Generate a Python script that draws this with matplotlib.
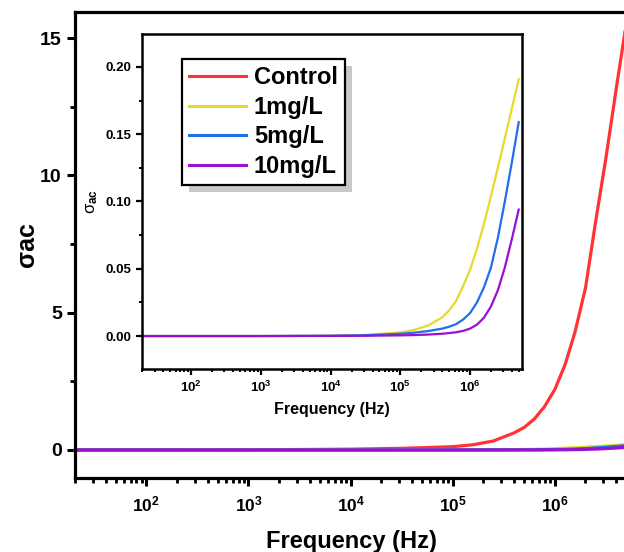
import numpy as np
import matplotlib
matplotlib.use('Agg')
import matplotlib.pyplot as plt
import matplotlib.transforms as mtransforms
from matplotlib.patches import Rectangle
from matplotlib.ticker import FuncFormatter, MultipleLocator, LogLocator

plt.rcParams['font.family'] = 'Liberation Sans'
plt.rcParams['font.weight'] = 'bold'
plt.rcParams['mathtext.fontset'] = 'custom'
plt.rcParams['mathtext.rm'] = 'Liberation Sans'
plt.rcParams['mathtext.it'] = 'Liberation Sans:italic'
plt.rcParams['mathtext.bf'] = 'Liberation Sans:bold'

# frequency (Hz)
freq = [20, 100, 1e3, 1e4, 3.16e4, 1e5, 1.58e5, 2.51e5, 3.98e5, 5.01e5, 6.31e5,
        7.94e5, 1e6, 1.26e6, 1.58e6, 2e6, 2.51e6, 3.16e6, 3.98e6, 5e6]

control = [0.0, 0.0, 0.005, 0.03, 0.06, 0.12, 0.19, 0.33, 0.62, 0.82, 1.13,
           1.58, 2.2, 3.1, 4.3, 5.9, 8.3, 10.6, 13.1, 15.5]
mg1 = [0.0, 0.0, 0.0, 0.0002, 0.0008, 0.0027, 0.0046, 0.0078, 0.0138, 0.019, 0.026,
       0.037, 0.049, 0.065, 0.083, 0.104, 0.125, 0.147, 0.169, 0.191]
mg5 = [0.0, 0.0, 0.0, 0.0002, 0.0006, 0.0017, 0.0025, 0.0037, 0.0055, 0.0069, 0.0088,
       0.0122, 0.017, 0.025, 0.036, 0.051, 0.073, 0.100, 0.129, 0.159]
mg10 = [0.0, 0.0, 0.0, 0.0001, 0.0002, 0.0005, 0.0007, 0.0011, 0.0017, 0.0022, 0.0028,
        0.0038, 0.0055, 0.0085, 0.0135, 0.022, 0.034, 0.051, 0.072, 0.094]

labels = ['Control', '1mg/L', '5mg/L', '10mg/L']
colors = ['#ff3333', '#e8d92c', '#1f6fe8', '#9a10cf']

fig = plt.figure(figsize=(6.24, 5.52), dpi=100)

# main axes, right spine sits just past the picture edge
ax = fig.add_axes([75/624, 74/552, 552/624, 466/552])
lines = []
lines += ax.plot(freq, control, color=colors[0], lw=2.3, clip_on=False)
lines += ax.plot(freq, mg1, color=colors[1], lw=2.3)
lines += ax.plot(freq, mg5, color=colors[2], lw=2.3)
lines += ax.plot(freq, mg10, color=colors[3], lw=2.3)
ax.set_xscale('log')
ax.set_xlim(20, 5.1e6)
ax.set_ylim(-1.02, 15.95)
ax.yaxis.set_major_locator(MultipleLocator(5))
ax.yaxis.set_minor_locator(MultipleLocator(2.5))
ax.xaxis.set_major_locator(LogLocator(base=10, numticks=12))
ax.xaxis.set_minor_locator(LogLocator(base=10, subs=np.arange(2, 10), numticks=12))
fmt = FuncFormatter(lambda v, p: r'$\mathbf{10^{%d}}$' % round(np.log10(v)))
ax.xaxis.set_major_formatter(fmt)
for s in ax.spines.values():
    s.set_linewidth(2.3)
ax.tick_params(which='major', length=6, width=2.2, direction='out')
ax.tick_params(which='minor', length=3.5, width=2, direction='out')
ax.tick_params(axis='y', labelsize=14)
ax.tick_params(axis='x', labelsize=12.5, pad=6)
ax.set_xlabel('Frequency (Hz)', fontsize=17, fontweight='bold', labelpad=11)
ax.set_ylabel('σac', fontsize=18, fontweight='bold', labelpad=1)

# inset
axi = fig.add_axes([142/624, 183/552, 380/624, 335/552])
axi.plot(freq, mg1, color=colors[1], lw=1.6)
axi.plot(freq, mg5, color=colors[2], lw=1.6)
axi.plot(freq, mg10, color=colors[3], lw=1.6)
axi.set_xscale('log')
axi.set_xlim(19.8, 5.57e6)
axi.set_ylim(-0.0245, 0.2245)
axi.yaxis.set_major_locator(MultipleLocator(0.05))
axi.yaxis.set_minor_locator(MultipleLocator(0.025))
axi.yaxis.set_major_formatter(FuncFormatter(lambda v, p: '%.2f' % v))
axi.xaxis.set_major_locator(LogLocator(base=10, numticks=12))
axi.xaxis.set_minor_locator(LogLocator(base=10, subs=np.arange(2, 10), numticks=12))
axi.xaxis.set_major_formatter(fmt)
for s in axi.spines.values():
    s.set_linewidth(1.8)
axi.tick_params(which='major', length=4, width=1.6, direction='out', labelsize=9.5)
axi.tick_params(which='minor', length=2.5, width=1.4, direction='out')
axi.tick_params(axis='x', labelsize=9.5, pad=4)
axi.set_xlabel('Frequency (Hz)', fontsize=11.5, fontweight='bold', labelpad=5)
axi.set_ylabel(r'σ$_{\mathrm{ac}}$', fontsize=12, fontweight='normal', labelpad=4)

leg = axi.legend(lines, labels, loc='upper left', bbox_to_anchor=(0.105, 0.925),
                 borderaxespad=0, fancybox=False, handlelength=2.4,
                 handletextpad=0.35, borderpad=0.3, labelspacing=0.28,
                 prop={'weight': 'bold', 'size': 17})
leg.get_frame().set_edgecolor('black')
leg.get_frame().set_linewidth(1.6)
leg.get_frame().set_alpha(1)
for h in leg.get_lines():
    h.set_linewidth(2.2)

# grey drop shadow behind the legend box
fig.canvas.draw()
bb = leg.get_window_extent()
axi.add_patch(Rectangle((bb.x0 + 7, bb.y0 - 7), bb.width, bb.height,
                        transform=mtransforms.IdentityTransform(),
                        facecolor='#c8c8c8', edgecolor='none', zorder=4.9,
                        clip_on=False))

fig.savefig('out.png', dpi=100)
